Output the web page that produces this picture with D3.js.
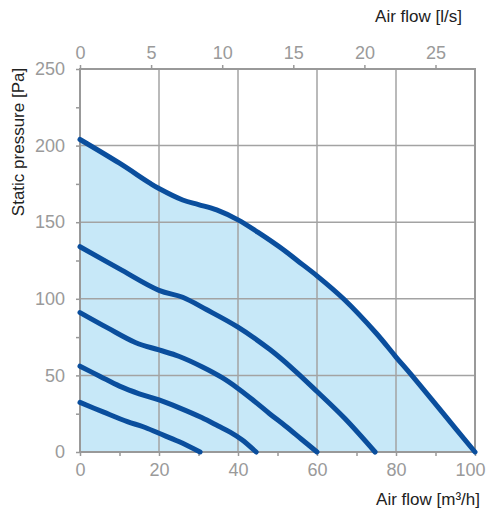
<!DOCTYPE html>
<html>
<head>
<meta charset="utf-8">
<script src="https://cdn.jsdelivr.net/npm/d3@7"></script>
<style>
  body { margin: 0; background: #fff; }
  svg { display: block; font-family: "Liberation Sans", Arial, sans-serif; }
</style>
</head>
<body>
<div id="chart"></div>
<script>
// fan curves, air flow [m3/h] vs static pressure [Pa]
const curve1 = [[0,204],[10,188.5],[17.7,175.5],[20,172],[26,164.5],[30,161.5],[34.6,158],[40,151.5],[45,143.5],[51.5,132],[55,125],[60,115],[66.7,100],[75,77.5],[80,62],[84,50],[92,25],[100,0]];
const curve2 = [[0,134],[10,119.5],[20,105.5],[26,101],[32,93],[40,81.5],[48,67],[54,54],[60,39.5],[67,22],[74.7,0]];
const curve3 = [[0,91],[7,81],[14,71.5],[20,66.6],[25,62.5],[31,55.5],[36,48.5],[40,41.5],[44,33.5],[48,25],[52,17],[56,8.5],[60,0]];
const curve4 = [[0,56],[5,49.5],[10,43],[15,38],[20,34],[25,29],[30.8,22.5],[35,17],[38,13],[41,8],[44.6,0]];
const curve5 = [[0,32.4],[6,26],[12,19.8],[16,16.5],[20,12.2],[25,6.8],[30.4,0]];
const curves = [curve1, curve2, curve3, curve4, curve5];

const flowTicks = [0, 20, 40, 60, 80, 100];
const flowMinorTicks = [0, 10, 20, 30, 40, 50, 60, 70, 80, 90, 100];
const litreTicks = [0, 5, 10, 15, 20, 25];
const pressureTicks = [0, 50, 100, 150, 200, 250];
const pressureMinorTicks = [0, 25, 50, 75, 100, 125, 150, 175, 200, 225, 250];

const width = 487, height = 512;
const plotLeft = 80, plotRight = 475, plotTop = 69, plotBottom = 452;

const svg = d3.select("#chart").append("svg")
    .attr("width", width)
    .attr("height", height);

const x = d3.scaleLinear().domain([0, 100]).range([plotLeft, plotRight]);
const xl = d3.scaleLinear().domain([0, 100 / 3.6]).range([plotLeft, plotRight]);
const y = d3.scaleLinear().domain([0, 250]).range([plotBottom, plotTop]);

const gridColor = "#a3a3a3";
const labelColor = "#9a9a9a";
const smooth = d3.curveCatmullRom.alpha(0.5);

// area under the biggest curve
svg.append("path")
    .datum(curve1)
    .attr("fill", "#c7e8f8")
    .attr("d", d3.area()
        .x(d => x(d[0]))
        .y0(y(0))
        .y1(d => y(d[1]))
        .curve(smooth));

// grid
svg.append("g").selectAll("line")
    .data(flowTicks.slice(1, -1))
    .enter().append("line")
    .attr("x1", d => x(d)).attr("x2", d => x(d))
    .attr("y1", plotTop).attr("y2", plotBottom)
    .attr("stroke", gridColor).attr("stroke-width", 1.5);

svg.append("g").selectAll("line")
    .data(pressureTicks.slice(1, -1))
    .enter().append("line")
    .attr("x1", plotLeft).attr("x2", plotRight)
    .attr("y1", d => y(d)).attr("y2", d => y(d))
    .attr("stroke", gridColor).attr("stroke-width", 1.5);

// frame
svg.append("rect")
    .attr("x", plotLeft).attr("y", plotTop)
    .attr("width", plotRight - plotLeft).attr("height", plotBottom - plotTop)
    .attr("fill", "none")
    .attr("stroke", "#999").attr("stroke-width", 2);

// axes
const tickFont = g => g.call(g => g.select(".domain").remove())
    .call(g => g.selectAll(".tick line").attr("stroke", "#999").attr("stroke-width", 1.5))
    .call(g => g.selectAll(".tick text").attr("fill", labelColor).attr("font-size", 18));

svg.append("g")
    .attr("transform", `translate(0,${plotBottom})`)
    .call(d3.axisBottom(x).tickValues(flowMinorTicks).tickSize(4).tickPadding(7)
        .tickFormat(d => flowTicks.includes(d) ? d : ""))
    .call(tickFont)
    .attr("font-family", null)
    .call(g => g.selectAll(".tick text").filter(d => d === 100)
        .attr("text-anchor", "end").attr("x", 10));

svg.append("g")
    .attr("transform", `translate(0,${plotTop})`)
    .call(d3.axisTop(xl).tickValues(litreTicks).tickSize(4).tickPadding(6))
    .call(tickFont)
    .attr("font-family", null);

svg.append("g")
    .attr("transform", `translate(${plotLeft},0)`)
    .call(d3.axisLeft(y).tickValues(pressureMinorTicks).tickSize(4).tickPadding(11)
        .tickFormat(d => pressureTicks.includes(d) ? d : ""))
    .call(tickFont)
    .attr("font-family", null);

// curves
const line = d3.line()
    .x(d => x(d[0]))
    .y(d => y(d[1]))
    .curve(smooth);

svg.append("g").selectAll("path")
    .data(curves)
    .enter().append("path")
    .attr("d", line)
    .attr("fill", "none")
    .attr("stroke", "#0a4e9d")
    .attr("stroke-width", 5)
    .attr("stroke-linecap", "round")
    .attr("stroke-linejoin", "round");

// titles
svg.append("text")
    .attr("x", 462).attr("y", 22)
    .attr("text-anchor", "end")
    .attr("font-size", 17).attr("fill", "#222")
    .text("Air flow [l/s]");

svg.append("text")
    .attr("x", 480).attr("y", 505)
    .attr("text-anchor", "end")
    .attr("font-size", 17).attr("fill", "#222")
    .text("Air flow [m³/h]");

svg.append("text")
    .attr("transform", "translate(24,142) rotate(-90)")
    .attr("text-anchor", "middle")
    .attr("font-size", 17).attr("fill", "#222")
    .text("Static pressure [Pa]");
</script>
</body>
</html>
